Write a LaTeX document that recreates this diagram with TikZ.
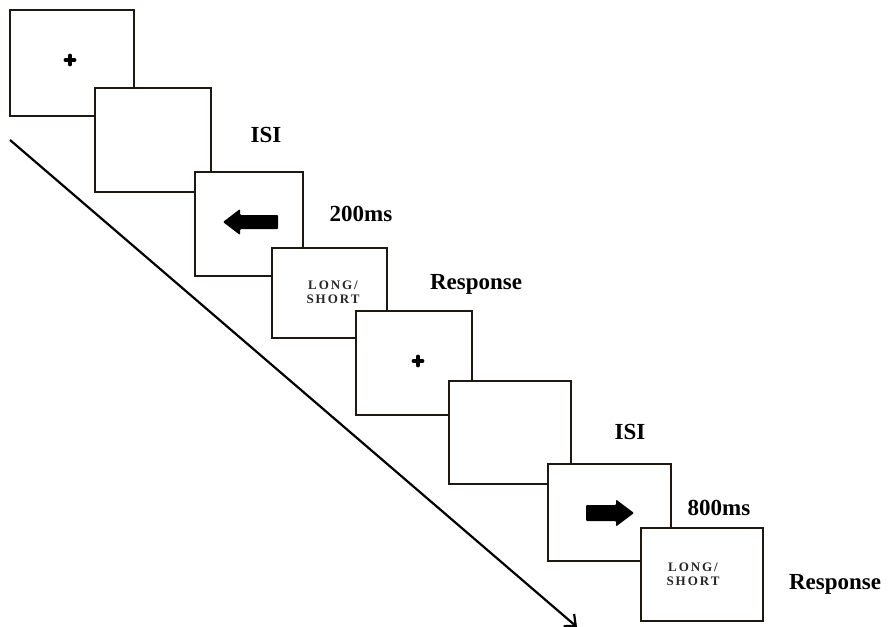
\documentclass[tikz,border=0pt]{standalone}
\usepackage{fontspec}
\setmainfont{Liberation Serif}
\usetikzlibrary{arrows.meta}
\definecolor{edge}{RGB}{30,24,16}
\begin{document}
\begin{tikzpicture}[x=1pt,y=-1pt,
  frame/.style={draw=edge,fill=white,line width=2pt,anchor=north west,inner sep=0pt,outer sep=0pt},
  lab/.style={font=\bfseries\fontsize{23}{25}\selectfont,inner sep=0pt},
  choice/.style={font=\bfseries\fontsize{13}{14}\selectfont\addfontfeature{LetterSpace=15},align=center,inner sep=0pt,text=black!85},
  fix/.style={line width=3.8pt,line cap=round},
  cue/.style={fill=black,rounded corners=1pt}]
\useasboundingbox (0,0) rectangle (888,626);
\coordinate (t0) at (10,140);
\coordinate (t1) at (577,627);
\draw[line width=2.2pt,-{Straight Barb[length=9pt,width=16pt,line width=2.2pt]}] (t0) -- (t1);

\node[frame,minimum width=124pt,minimum height=106pt] (b1) at (10,10) {};
\node[frame,minimum width=116pt,minimum height=104pt] (b2) at (95,88) {};
\node[frame,minimum width=108pt,minimum height=104pt] (b3) at (195,172) {};
\node[frame,minimum width=115pt,minimum height=90pt] (b4) at (272,248) {};
\node[frame,minimum width=116pt,minimum height=104pt] (b5) at (356,311) {};
\node[frame,minimum width=122pt,minimum height=103pt] (b6) at (449,381) {};
\node[frame,minimum width=123pt,minimum height=97pt] (b7) at (548,464) {};
\node[frame,minimum width=122pt,minimum height=93pt] (b8) at (641,528) {};

% fixation crosses
\draw[fix] (65.5,60) -- (74.5,60) (70,55.5) -- (70,64.5);
\draw[fix] (413.5,361) -- (422.5,361) (418,356.5) -- (418,365.5);

% left arrow cue
\fill[cue] (223,222) -- (240,209) -- (240,215) -- (278,215) -- (278,229) -- (240,229) -- (240,235) -- cycle;
% right arrow cue
\fill[cue] (634,513) -- (616,499.5) -- (616,505) -- (586,505) -- (586,521) -- (616,521) -- (616,526.5) -- cycle;

\node[choice] (r1) at (333,292) {LONG/\\SHORT};
\node[choice] (r2) at (693,574) {LONG/\\SHORT};

\node[lab] (l1) at (266,135) {ISI};
\node[lab] (l2) at (361,214) {200ms};
\node[lab] (l3) at (476,284) {Response};
\node[lab] (l4) at (630,432) {ISI};
\node[lab] (l5) at (719,508) {800ms};
\node[lab] (l6) at (835,584) {Response};
\end{tikzpicture}
\end{document}
